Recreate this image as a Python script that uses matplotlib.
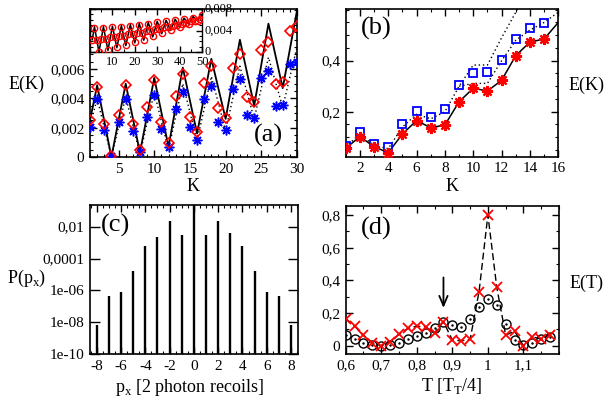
import matplotlib
matplotlib.use("Agg")
import matplotlib.pyplot as plt
from matplotlib.ticker import MultipleLocator, FixedLocator, FuncFormatter, NullLocator

plt.rcParams['font.family'] = ['Liberation Serif', 'DejaVu Serif']
plt.rcParams['axes.unicode_minus'] = False
plt.rcParams['mathtext.fontset'] = 'custom'
plt.rcParams['mathtext.rm'] = 'Liberation Serif'

# ---- panel (a): main ----
a_k = list(range(1, 31))
a_red = [0.00253, 0.0048, 0.00223, 0.0001, 0.00287, 0.0049, 0.00225, 0.00048, 0.00344, 0.00526,
         0.00241, 0.00098, 0.00416, 0.00567, 0.00275, 0.00173, 0.00507, 0.00621, 0.00332, 0.00264,
         0.0061, 0.0070, 0.00412, 0.00378, 0.0073, 0.00787, 0.00498, 0.0051, 0.00862, 0.00894]
a_blue = [0.00207, 0.00394, 0.00184, 0.0001, 0.00237, 0.00398, 0.00177, 0.00032, 0.00275, 0.00423,
          0.00189, 0.00066, 0.00325, 0.00446, 0.00207, 0.00116, 0.00394, 0.00485, 0.00241, 0.00184,
          0.00462, 0.0053, 0.00287, 0.00264, 0.00542, 0.00587, 0.00348, 0.00355, 0.00632, 0.00646]
a_line_k = [1, 2, 4, 6, 8, 10, 12, 14, 16, 18, 20, 22, 24, 26, 28, 30]
a_solid = [0.0025, 0.0049, 0.0, 0.0050, 0.0003, 0.0054, 0.0007, 0.0061, 0.0016, 0.0067,
           0.0026, 0.0080, 0.0035, 0.0091, 0.0047, 0.0100]
a_dotted = [0.0021, 0.0040, 0.0, 0.0041, 0.0002, 0.0044, 0.0005, 0.0050, 0.0011, 0.0055,
            0.0018, 0.0062, 0.0026, 0.0068, 0.0034, 0.0075]

# ---- panel (a): inset ----
ins_k = list(range(1, 51))
ins_red = [0.0023, 0.0044, 0.0023, 0.0000, 0.0025, 0.0045, 0.0024, 0.0004, 0.0027, 0.0046,
           0.0027, 0.0009, 0.0030, 0.0047, 0.0030, 0.0013, 0.0033, 0.0049, 0.0033, 0.0018,
           0.0036, 0.0051, 0.0036, 0.0023, 0.0039, 0.0053, 0.0040, 0.0029, 0.0042, 0.0055,
           0.0043, 0.0035, 0.0046, 0.0057, 0.0047, 0.0041, 0.0049, 0.0059, 0.0050, 0.0047,
           0.0053, 0.0061, 0.0054, 0.0053, 0.0057, 0.0064, 0.0058, 0.0058, 0.0062, 0.0068]
ins_line_k = [1, 2, 4, 6, 8, 10, 12, 14, 16, 18, 20, 22, 24, 26, 28, 30, 32, 34, 36, 38, 40,
              42, 44, 46, 48, 50]
ins_line = [0.0023, 0.0047, 0.0000, 0.0047, 0.0003, 0.0048, 0.0008, 0.0049, 0.0012, 0.0051,
            0.0017, 0.0053, 0.0022, 0.0055, 0.0028, 0.0057, 0.0034, 0.0059, 0.0040, 0.0061,
            0.0046, 0.0063, 0.0052, 0.0066, 0.0058, 0.0070]

# ---- panel (b) ----
b_k = list(range(1, 16))
b_red = [0.0565, 0.102, 0.063, 0.039, 0.1125, 0.165, 0.137, 0.148, 0.239, 0.292,
         0.281, 0.323, 0.42, 0.473, 0.485]
b_blue = [0.067, 0.120, 0.073, 0.063, 0.152, 0.203, 0.180, 0.211, 0.303, 0.350,
          0.354, 0.403, 0.484, 0.530, 0.548]
b_line_k = list(range(1, 17))
b_solid = [0.0565, 0.102, 0.063, 0.039, 0.1125, 0.165, 0.137, 0.148, 0.239, 0.292,
           0.281, 0.323, 0.42, 0.473, 0.485, 0.55]
b_dot_k1 = [1, 2, 3, 4, 5, 6, 7, 8, 9, 10, 11, 12, 13, 14]
b_dot1 = [0.062, 0.112, 0.068, 0.055, 0.14, 0.19, 0.172, 0.20, 0.30, 0.383, 0.383, 0.49, 0.59, 0.70]
b_dot_k2 = [9, 10, 11, 12, 13, 14, 15, 16]
b_dot2 = [0.30, 0.311, 0.311, 0.40, 0.48, 0.52, 0.55, 0.59]

# ---- panel (c) ----
c_p = [-8, -7, -6, -5, -4, -3, -2, -1, 0, 1, 2, 3, 4, 5, 6, 7, 8]
c_prob = [6.6e-9, 4.7e-7, 8.3e-7, 1.7e-5, 6.5e-4, 2.4e-3, 2.4e-2, 2.8e-3, 1.0,
          2.8e-3, 2.4e-2, 3.9e-3, 6.5e-4, 1.7e-5, 8.3e-7, 4.7e-7, 6.3e-9]

# ---- panel (d) ----
d_t = [0.6, 0.625, 0.65, 0.675, 0.7, 0.725, 0.75, 0.775, 0.8, 0.825, 0.85, 0.875,
       0.9, 0.925, 0.95, 0.975, 1.0, 1.025, 1.05, 1.075, 1.1, 1.125, 1.15, 1.175]
d_cross = [0.167, 0.12, 0.065, 0.018, 0.0, 0.024, 0.071, 0.106, 0.12, 0.116, 0.08, 0.147,
           0.035, 0.031, 0.039, 0.33, 0.80, 0.357, 0.065, 0.09, 0.0, 0.055, 0.041, 0.069]
d_circle = [0.065, 0.039, 0.018, 0.008, 0.0, 0.008, 0.018, 0.039, 0.059, 0.076, 0.106, 0.147,
            0.127, 0.116, 0.167, 0.235, 0.286, 0.249, 0.133, 0.035, 0.004, 0.018, 0.039, 0.055]

RED = '#ff0000'
BLUE = '#0000ff'
TICK_FS = 11
LAB_FS = 13


def comma(v, pos):
    return f"{v:g}".replace('.', ',')


def style_axes(ax, fs=TICK_FS):
    ax.tick_params(which='both', direction='in', top=True, right=True, labelsize=fs, pad=4)
    ax.tick_params(which='major', length=5, width=1)
    ax.tick_params(which='minor', length=2.5, width=0.8)
    for s in ax.spines.values():
        s.set_linewidth(1.2)


fig = plt.figure(figsize=(6.09, 4.01), dpi=100)
W, H = 609.0, 401.0


def place(l, r, t, b):
    return [l / W, 1 - b / H, (r - l) / W, (b - t) / H]


star = (8, 2, 0)

# (a)
ax_a = fig.add_axes(place(90, 297, 9, 157))
ax_a.plot(a_line_k, a_solid, color='k', lw=1.3, zorder=2)
ax_a.plot(a_line_k, a_dotted, color='k', lw=1.0, ls=(0, (1, 2)), zorder=2)
ax_a.plot(a_k, a_blue, ls='none', marker=star, ms=7, mec=BLUE, mew=1.1, zorder=3)
ax_a.plot(a_k, a_red, ls='none', marker='D', ms=5.5, mfc='none', mec=RED, mew=1.2, zorder=4)
ax_a.set_xlim(1, 30)
ax_a.set_ylim(0, 0.0101)
ax_a.xaxis.set_major_locator(MultipleLocator(5))
ax_a.xaxis.set_minor_locator(MultipleLocator(1))
ax_a.yaxis.set_major_locator(FixedLocator([0, 0.002, 0.004, 0.006]))
ax_a.yaxis.set_minor_locator(MultipleLocator(0.0005))
ax_a.yaxis.set_major_formatter(FuncFormatter(comma))
style_axes(ax_a)
ax_a.text(0.93, 0.07, '(a)', transform=ax_a.transAxes, fontsize=19, ha='right', va='bottom')
fig.text(27 / W, 1 - 84 / H, 'E(K)', fontsize=LAB_FS, ha='center', va='center')
fig.text(193 / W, 1 - 187 / H, 'K', fontsize=LAB_FS, ha='center', va='center')

# inset
ax_i = fig.add_axes(place(90, 202, 9, 52))
ax_i.plot(ins_line_k, ins_line, color='k', lw=1.1, zorder=2)
ax_i.plot(ins_k, ins_red, ls='none', marker='o', ms=4.5, mfc='none', mec=RED, mew=1.0, zorder=3)
ax_i.set_xlim(0, 50)
ax_i.set_ylim(0, 0.008)
ax_i.xaxis.set_major_locator(FixedLocator([10, 20, 30, 40, 50]))
ax_i.xaxis.set_minor_locator(MultipleLocator(5))
ax_i.yaxis.set_major_locator(MultipleLocator(0.004))
ax_i.yaxis.set_minor_locator(MultipleLocator(0.001))
ax_i.yaxis.set_major_formatter(FuncFormatter(comma))
style_axes(ax_i, fs=9)
ax_i.tick_params(which='both', labelleft=False, labelright=True, pad=2)
ax_i.tick_params(axis='x', which='major', pad=3)
ax_i.tick_params(which='major', length=4)
ax_i.tick_params(which='minor', length=2)
for lab in ax_i.get_yticklabels():
    lab.set_verticalalignment('center')
ax_i.yaxis.get_major_ticks()[0].label2.set_verticalalignment('bottom')
for s in ax_i.spines.values():
    s.set_linewidth(1.0)

# (b)
ax_b = fig.add_axes(place(345.7, 558.3, 9.3, 156.7))
ax_b.plot(b_line_k, b_solid, color='k', lw=1.1, zorder=2)
ax_b.plot(b_dot_k1, b_dot1, color='k', lw=1.0, ls=(0, (1, 2)), zorder=2)
ax_b.plot(b_dot_k2, b_dot2, color='k', lw=1.0, ls=(0, (1, 2)), zorder=2)
ax_b.plot(b_k, b_blue, ls='none', marker='s', ms=6, mfc='none', mec=BLUE, mew=1.3, zorder=3)
ax_b.plot(b_k, b_red, ls='none', marker=star, ms=8, mec=RED, mew=1.6, zorder=4)
ax_b.set_xlim(1, 16)
ax_b.set_ylim(0.0235, 0.6015)
ax_b.xaxis.set_major_locator(MultipleLocator(2))
ax_b.xaxis.set_minor_locator(MultipleLocator(1))
ax_b.yaxis.set_major_locator(FixedLocator([0.2, 0.4]))
ax_b.yaxis.set_minor_locator(MultipleLocator(0.05))
ax_b.yaxis.set_major_formatter(FuncFormatter(comma))
style_axes(ax_b)
ax_b.text(0.07, 0.87, '(b)', transform=ax_b.transAxes, fontsize=19, ha='left', va='center')
fig.text(587 / W, 1 - 85 / H, 'E(K)', fontsize=LAB_FS, ha='center', va='center')
fig.text(452 / W, 1 - 187 / H, 'K', fontsize=LAB_FS, ha='center', va='center')

# (c)
ax_c = fig.add_axes(place(90, 297.7, 205, 354))
ax_c.set_yscale('log')
ax_c.vlines(c_p, 1e-11, c_prob, colors='k', lw=1.7)
ax_c.set_xlim(-8.55, 8.55)
ax_c.set_ylim(1e-10, 0.23)
ax_c.xaxis.set_major_locator(MultipleLocator(2))
ax_c.xaxis.set_minor_locator(MultipleLocator(0.5))
ax_c.yaxis.set_major_locator(FixedLocator([1e-10, 1e-8, 1e-6, 1e-4, 1e-2]))
ax_c.yaxis.set_minor_locator(NullLocator())
ax_c.yaxis.set_major_formatter(FuncFormatter(comma))
style_axes(ax_c)
ax_c.tick_params(which='major', axis='y', length=7)
ax_c.text(0.05, 0.86, '(c)', transform=ax_c.transAxes, fontsize=19, ha='left', va='center')
fig.text(27 / W, 1 - 278 / H, r'P(p$_\mathregular{x}$)', fontsize=LAB_FS, ha='center', va='center')
fig.text(190 / W, 1 - 388 / H, r'p$_\mathregular{x}$ [2 photon recoils]', fontsize=LAB_FS,
         ha='center', va='center')

# (d)
ax_d = fig.add_axes(place(345.7, 559, 206, 354))
ax_d.plot(d_t, d_cross, color='k', lw=1.0, ls=(0, (5, 2.5)), zorder=2)
ax_d.plot(d_t, d_circle, ls='none', marker='o', ms=6.5, mfc='none', mec='k', mew=1.0, zorder=3)
ax_d.plot(d_t, d_circle, ls='none', marker='.', ms=1.5, color='k', zorder=3)
ax_d.plot(d_t, d_cross, ls='none', marker='x', ms=6.5, mec=RED, mew=1.3, zorder=4)
ax_d.annotate('', xy=(0.875, 0.215), xytext=(0.875, 0.435),
              arrowprops=dict(arrowstyle='->,head_length=0.7,head_width=0.3', lw=1.3, color='k'))
ax_d.set_xlim(0.6, 1.2)
ax_d.set_ylim(-0.05, 0.855)
ax_d.xaxis.set_major_locator(FixedLocator([0.6, 0.7, 0.8, 0.9, 1.0, 1.1]))
ax_d.xaxis.set_minor_locator(MultipleLocator(0.05))
ax_d.yaxis.set_major_locator(MultipleLocator(0.2))
ax_d.yaxis.set_minor_locator(MultipleLocator(0.1))
ax_d.xaxis.set_major_formatter(FuncFormatter(comma))
ax_d.yaxis.set_major_formatter(FuncFormatter(comma))
style_axes(ax_d)
ax_d.text(0.07, 0.85, '(d)', transform=ax_d.transAxes, fontsize=19, ha='left', va='center')
fig.text(587 / W, 1 - 283 / H, 'E(T)', fontsize=LAB_FS, ha='center', va='center')
fig.text(452 / W, 1 - 386 / H, r'T [T$_\mathregular{T}$/4]', fontsize=LAB_FS,
         ha='center', va='center')

fig.savefig('out.png', dpi=100)
